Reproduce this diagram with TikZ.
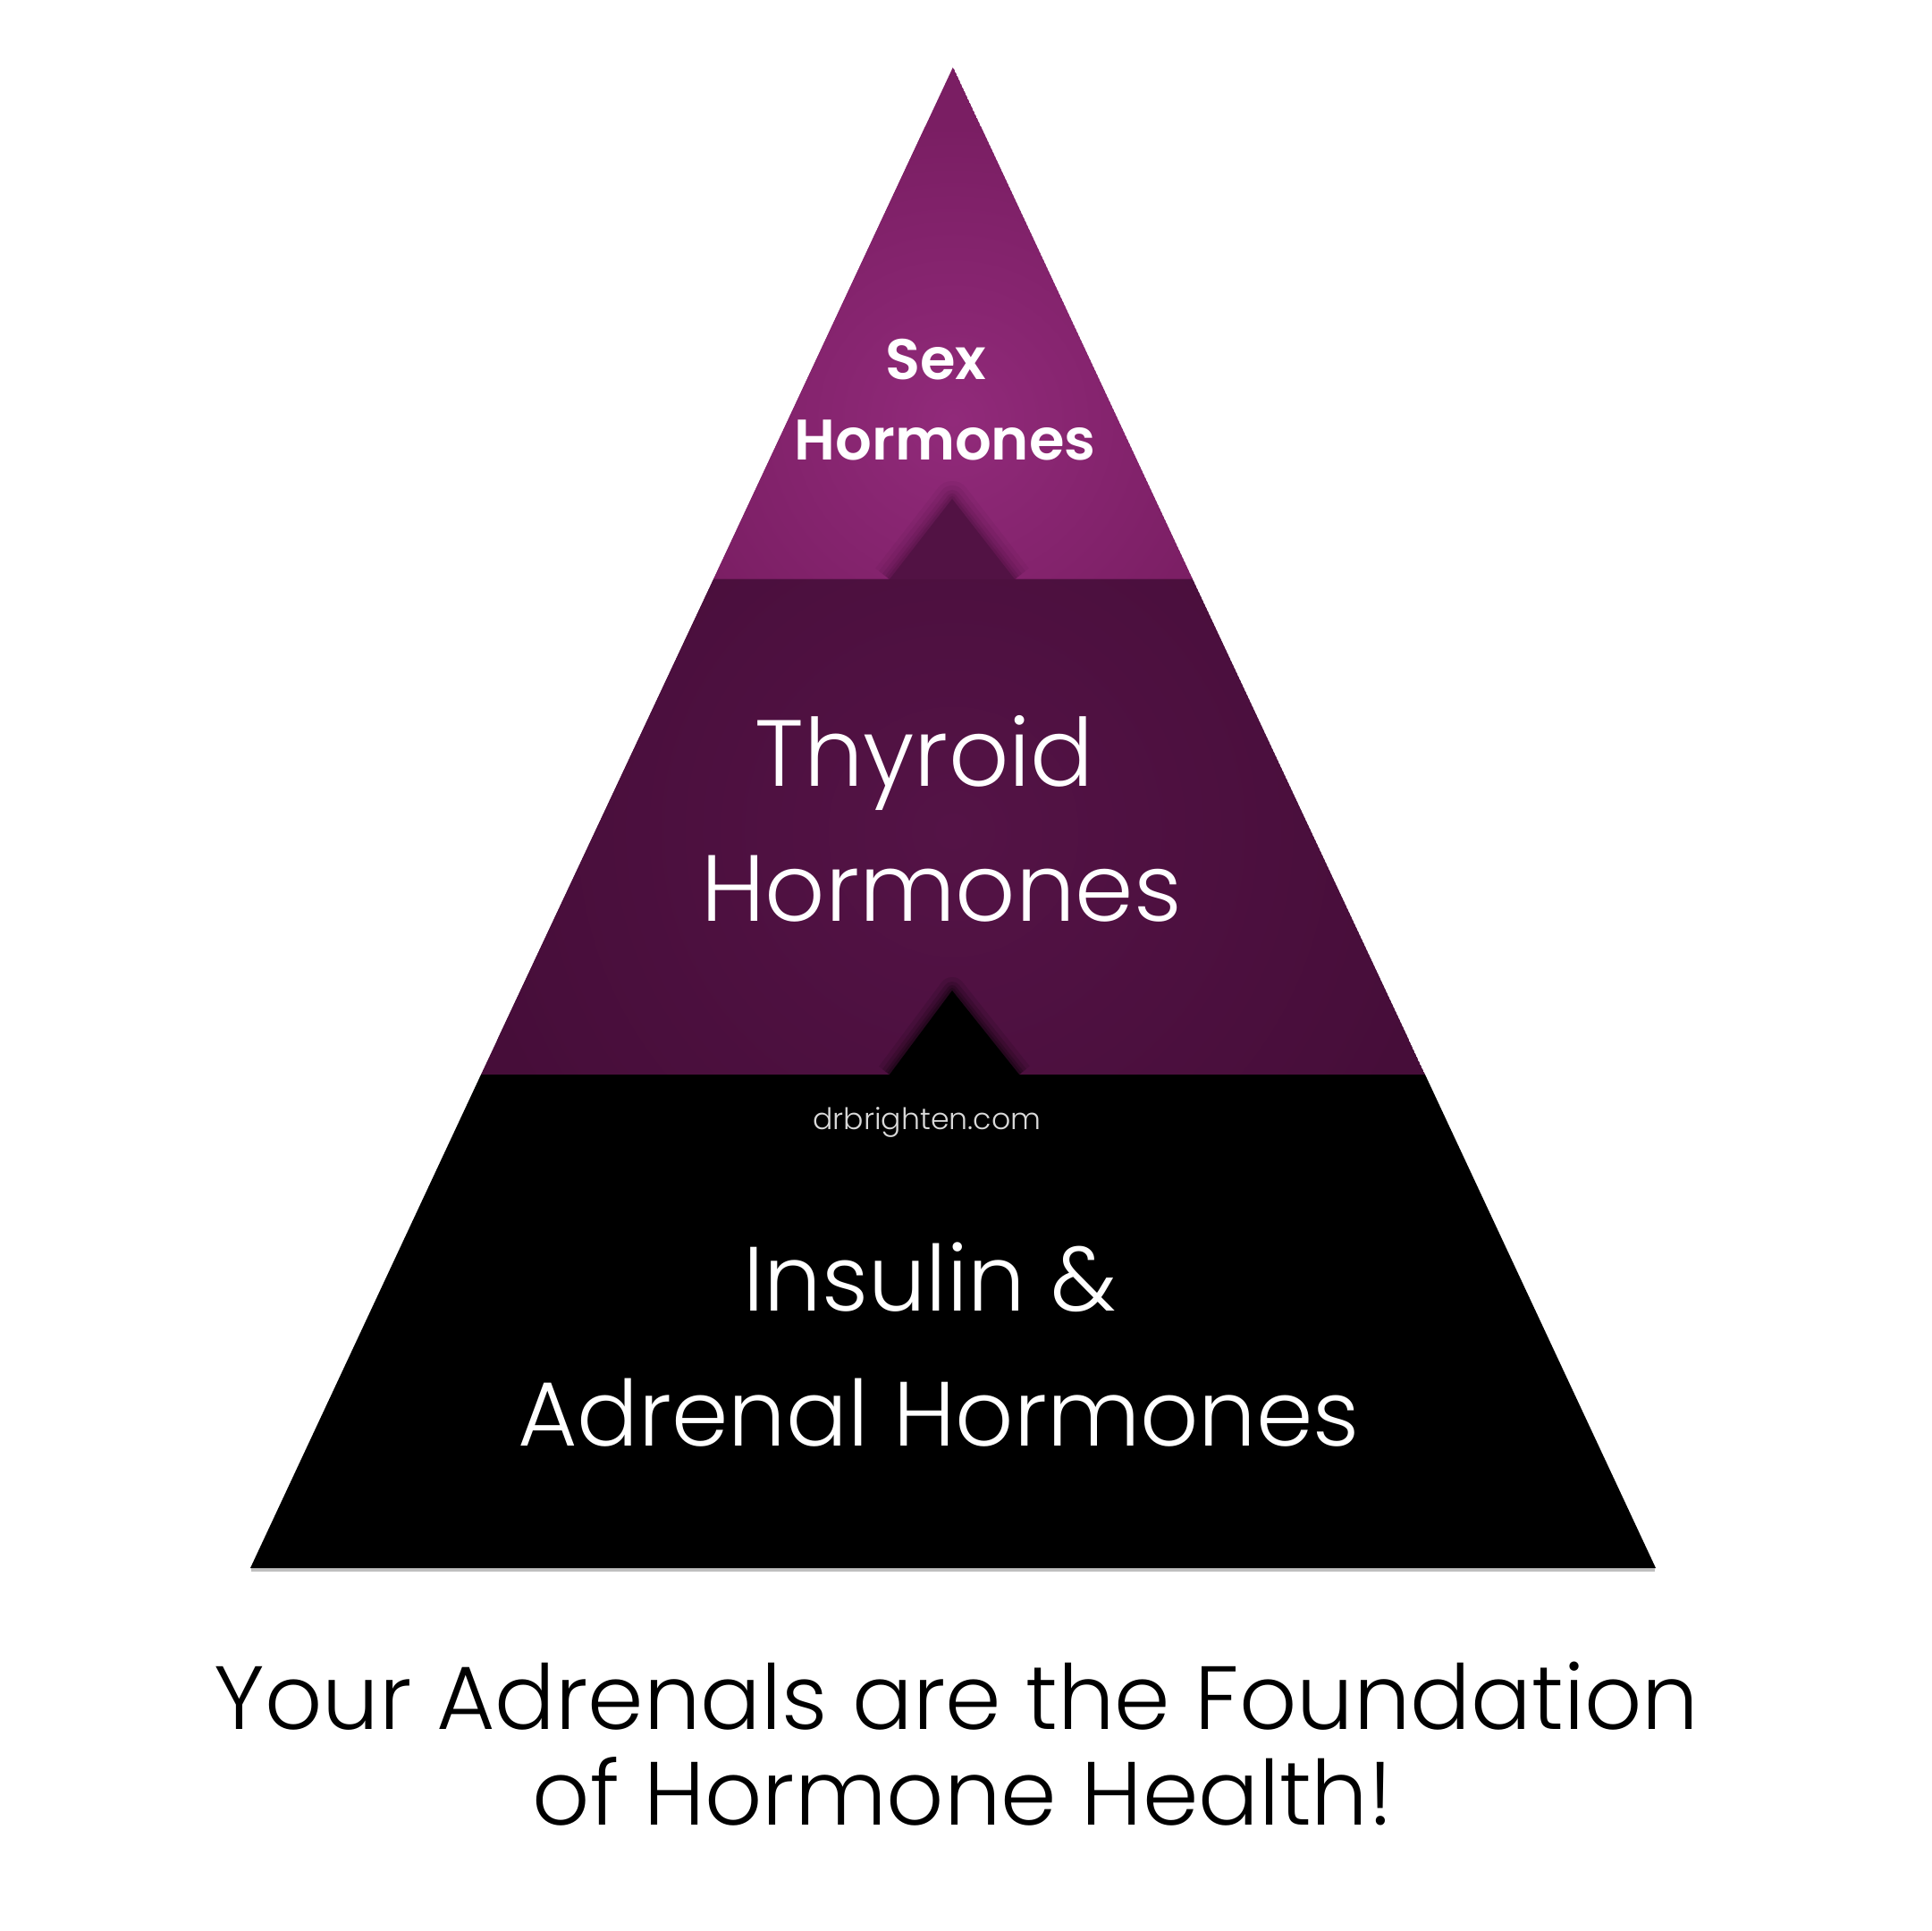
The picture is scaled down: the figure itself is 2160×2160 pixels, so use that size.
\documentclass[tikz,border=0pt]{standalone}
\usepackage{fontspec}
\setmainfont{Poppins}
\newfontfamily\lightf{Poppins Light}
\newfontfamily\boldf{Poppins SemiBold}
\definecolor{topc}{RGB}{145,42,122}
\definecolor{tope}{RGB}{122,30,99}
\definecolor{midc}{RGB}{84,19,70}
\definecolor{mide}{RGB}{70,13,57}
\definecolor{notchsh}{RGB}{70,14,58}
\tikzset{
  lbl/.style={anchor=base, inner sep=0pt, text=white},
  captxt/.style={anchor=base, inner sep=0pt, text=black},
}
\begin{document}
\begin{tikzpicture}[x=0.25pt,y=-0.25pt]
\useasboundingbox (0,0) rectangle (2160,2160);
\fill[white] (0,0) rectangle (2160,2160);
% corner coordinates
\coordinate (apex) at (1066,75);
\coordinate (tl) at (798,648);
\coordinate (tr) at (1334,648);
\coordinate (ml) at (538,1202);
\coordinate (mr) at (1594,1202);
\coordinate (bl) at (280,1754);
\coordinate (br) at (1852,1754);
% base shadow
\fill[black!25] (281,1754) -- (1851,1754) -- (1851,1758) -- (281,1758) -- cycle;
% top band
\begin{scope}
\clip (apex) -- (tr) -- (tl) -- cycle;
\fill[tope] (apex) -- (tr) -- (tl) -- cycle;
\shade[inner color=topc, outer color=tope] (1066,470) circle (330);
\end{scope}
% middle band
\begin{scope}
\clip (tl) -- (tr) -- (mr) -- (ml) -- cycle;
\fill[mide] (tl) -- (tr) -- (mr) -- (ml) -- cycle;
\shade[inner color=midc, outer color=mide] (1066,930) circle (560);
\end{scope}
% bottom band
\fill[black] (ml) -- (mr) -- (br) -- (bl) -- cycle;
% top notch with soft shadow
\coordinate (n1a) at (1065,558);
\coordinate (n1l) at (995,648);
\coordinate (n1r) at (1135,648);
\begin{scope}
\clip (apex) -- (tr) -- (tl) -- cycle;
\foreach \w/\o in {40/0.08,30/0.1,20/0.14,12/0.18,6/0.22}
  \draw[line width=\w*0.25pt, line join=round, draw=notchsh, opacity=\o] (n1l) -- (n1a) -- (n1r);
\fill[black, opacity=0.08] (tl) -- (tr) -- ([yshift=-14*0.25pt]tr) -- ([yshift=-14*0.25pt]tl) -- cycle;
\end{scope}
\fill[midc!85!mide] (n1l) -- (n1a) -- (n1r) -- cycle;
% bottom notch with soft shadow
\coordinate (n2a) at (1065,1108);
\coordinate (n2l) at (995,1202);
\coordinate (n2r) at (1140,1202);
\begin{scope}
\clip (tl) -- (tr) -- (mr) -- (ml) -- cycle;
\foreach \w/\o in {30/0.1,20/0.14,12/0.18,6/0.22}
  \draw[line width=\w*0.25pt, line join=round, draw=black, opacity=\o] (n2l) -- (n2a) -- (n2r);
\end{scope}
\fill[black] (n2l) -- (n2a) -- (n2r) -- cycle;
% texts
\node[lbl, font=\boldf\fontsize{16}{16}\selectfont] (sex1) at (1047,425) {Sex};
\node[lbl, font=\boldf\fontsize{16}{16}\selectfont] (sex2) at (1057,515) {Hormones};
\node[lbl, font=\lightf\fontsize{26.3}{26.3}\selectfont] (thy1) at (1034,879) {Thyroid};
\node[lbl, font=\lightf\fontsize{26.3}{26.3}\selectfont] (thy2) at (1053,1030) {Hormones};
\node[lbl, font=\lightf\fontsize{8.3}{8.3}\selectfont, text=white!85!black] (url) at (1037,1263) {drbrighten.com};
\node[lbl, font=\lightf\fontsize{25.5}{25.5}\selectfont] (ins1) at (1040,1466) {Insulin \&};
\node[lbl, font=\lightf\fontsize{25.5}{25.5}\selectfont] (ins2) at (1050,1617) {Adrenal Hormones};
\node[captxt, font=\lightf\fontsize{25.1}{25.1}\selectfont] (cap1) at (1070,1934) {Your Adrenals are the Foundation};
\node[captxt, font=\lightf\fontsize{25.1}{25.1}\selectfont] (cap2) at (1077,2041) {of Hormone Health!};
\end{tikzpicture}
\end{document}
